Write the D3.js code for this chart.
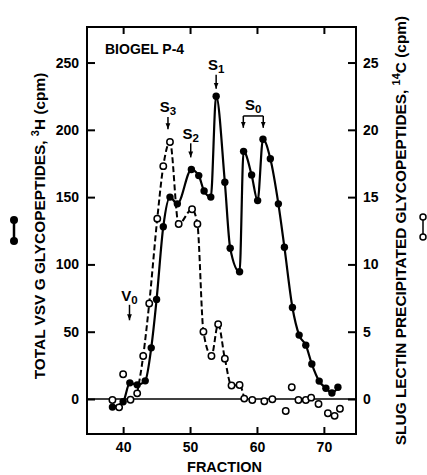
<!DOCTYPE html>
<html>
<head>
<meta charset="utf-8">
<script src="https://cdn.jsdelivr.net/npm/d3@7"></script>
<style>
  body { margin: 0; background: #fff; }
  svg { font-family: "Liberation Sans", Arial, sans-serif; font-weight: bold; }
</style>
</head>
<body>
<svg width="427" height="475"></svg>
<script>
// total VSV G glycopeptides, 3H cpm (left axis), filled circles
const vsvFraction = [38.4, 40.0, 41.0, 42.1, 43.3, 44.2, 45.0, 46.0, 47.0, 48.1, 50.2, 51.3, 52.1, 53.1, 53.9, 55.2, 56.0, 57.4, 58.0, 59.2, 60.1, 60.9, 62.0, 63.2, 64.1, 65.3, 66.3, 67.3, 68.2, 69.3, 70.3, 71.2, 72.1];
const vsvCpm = [-6, -2, 12, 10.5, 13.5, 38, 74, 128, 150, 145, 170.5, 166, 154.5, 150, 225, 161, 112, 94.5, 184, 166.5, 147.4, 193, 178.5, 145, 112.8, 68, 47.5, 40, 26, 13.3, 8, 4.5, 8.7];

// slug lectin precipitated glycopeptides, 14C cpm (right axis), open circles
const slugFraction = [38.4, 39.4, 40.0, 41.1, 42.1, 43.0, 43.9, 45.1, 46.0, 47.0, 48.3, 50.3, 51.1, 52.0, 53.2, 54.2, 55.2, 56.2, 57.4, 58.1, 59.3, 61.1, 62.3, 64.3, 65.2, 66.2, 67.3, 68.1, 69.2, 70.6, 71.6, 72.4];
const slugCpm = [-0.07, -0.62, 1.84, -0.05, 0.42, 3.2, 7.1, 13.4, 17.3, 19.1, 13.0, 14.1, 13.0, 5.0, 3.2, 5.55, 3.0, 1.0, 1.04, 0.03, -0.07, -0.17, -0.02, -0.89, 0.87, -0.07, -0.07, 0.1, -0.37, -1.06, -1.25, -0.72];
// dashed trace runs over the peak region only
const slugTraceFrom = 42.1, slugTraceTo = 58.1;

const xTicks = [40, 50, 60, 70];
const leftTicks = [0, 50, 100, 150, 200, 250];
const rightTicks = [0, 5, 10, 15, 20, 25];

// peak markers: label, fraction, label baseline, arrow top, arrow tip (left-axis units)
const peaks = [
  { name: "S", sub: "3", x: 46.7, ty: 213, y1: 209.5, y2: 200.5 },
  { name: "S", sub: "2", x: 50.1, ty: 193.5, y1: 190, y2: 179.5 },
  { name: "S", sub: "1", x: 53.9, ty: 244.5, y1: 241, y2: 230.5 },
  { name: "V", sub: "0", x: 40.95, ty: 72.5, y1: 70, y2: 58.5 }
];
const s0Label = { x: 59.45, ty: 215, y: 210.3, x1: 57.96, x2: 60.94, tip: 201.5 };

const svg = d3.select("svg");
const plotL = 87, plotR = 356, plotT = 27, plotB = 434;

const x = d3.scaleLinear().domain([34.6, 74.8]).range([plotL, plotR]);
const yL = d3.scaleLinear().domain([-26, 276.4]).range([plotB, plotT]);
const yR = d3.scaleLinear().domain([-2.6, 27.64]).range([plotB, plotT]);

svg.append("defs").append("marker")
  .attr("id", "head")
  .attr("viewBox", "0 0 10 10")
  .attr("refX", 10).attr("refY", 5)
  .attr("markerWidth", 6).attr("markerHeight", 6)
  .attr("markerUnits", "userSpaceOnUse")
  .attr("orient", "auto")
  .append("path").attr("d", "M0,1 L10,5 L0,9 Z").attr("fill", "#000");

// axes, ticks pointing inward
svg.append("g").attr("transform", `translate(0,${plotB})`)
  .call(d3.axisBottom(x).tickValues(xTicks).tickSizeInner(-7).tickSizeOuter(0).tickPadding(8));
svg.append("g").attr("transform", `translate(0,${plotT})`)
  .call(d3.axisTop(x).tickValues(xTicks).tickSizeInner(-7).tickSizeOuter(0).tickFormat(""));
svg.append("g").attr("transform", `translate(${plotL},0)`)
  .call(d3.axisLeft(yL).tickValues(leftTicks).tickSizeInner(-8).tickSizeOuter(0).tickPadding(8));
svg.append("g").attr("transform", `translate(${plotR},0)`)
  .call(d3.axisRight(yR).tickValues(rightTicks).tickSizeInner(-8).tickSizeOuter(0).tickPadding(7));

svg.selectAll(".domain").remove();
svg.selectAll(".tick line").attr("stroke", "#000").attr("stroke-width", 2);
svg.selectAll(".tick text").attr("fill", "#000")
  .style("font-size", "14px").style("font-weight", "bold");

svg.append("rect")
  .attr("x", plotL).attr("y", plotT)
  .attr("width", plotR - plotL).attr("height", plotB - plotT)
  .attr("fill", "none").attr("stroke", "#000").attr("stroke-width", 2);

// zero line
svg.append("line")
  .attr("x1", plotL).attr("x2", plotR)
  .attr("y1", yL(0)).attr("y2", yL(0))
  .attr("stroke", "#000").attr("stroke-width", 1.5);

const vsv = vsvFraction.map((f, i) => [f, vsvCpm[i]]);
const slug = slugFraction.map((f, i) => [f, slugCpm[i]]);

svg.append("path")
  .datum(slug.filter(d => d[0] >= slugTraceFrom && d[0] <= slugTraceTo))
  .attr("fill", "none").attr("stroke", "#000").attr("stroke-width", 2)
  .attr("stroke-dasharray", "6,3")
  .attr("d", d3.line().x(d => x(d[0])).y(d => yR(d[1])).curve(d3.curveMonotoneX));

svg.append("path")
  .datum(vsv)
  .attr("fill", "none").attr("stroke", "#000").attr("stroke-width", 2.2)
  .attr("d", d3.line().x(d => x(d[0])).y(d => yL(d[1])).curve(d3.curveMonotoneX));

svg.selectAll(".open").data(slug).join("circle")
  .attr("class", "open")
  .attr("cx", d => x(d[0])).attr("cy", d => yR(d[1])).attr("r", 3.2)
  .attr("fill", "#fff").attr("stroke", "#000").attr("stroke-width", 1.5);

svg.selectAll(".dot").data(vsv).join("circle")
  .attr("class", "dot")
  .attr("cx", d => x(d[0])).attr("cy", d => yL(d[1])).attr("r", 3.7)
  .attr("fill", "#000");

// labels
svg.append("text").attr("x", 105).attr("y", 54)
  .style("font-size", "14px").text("BIOGEL P-4");

svg.append("text").attr("x", 224.5).attr("y", 472)
  .attr("text-anchor", "middle").style("font-size", "14.5px").text("FRACTION");

const leftLabel = svg.append("text")
  .attr("transform", "translate(45,226) rotate(-90)")
  .attr("text-anchor", "middle").style("font-size", "15.4px");
leftLabel.append("tspan").text("TOTAL VSV G GLYCOPEPTIDES, ");
leftLabel.append("tspan").attr("dy", -6).style("font-size", "11px").text("3");
leftLabel.append("tspan").attr("dy", 6).text("H (cpm)");

const rightLabel = svg.append("text")
  .attr("transform", "translate(406,230.5) rotate(-90)")
  .attr("text-anchor", "middle").style("font-size", "15.4px");
rightLabel.append("tspan").text("SLUG LECTIN PRECIPITATED GLYCOPEPTIDES, ");
rightLabel.append("tspan").attr("dy", -6).style("font-size", "11px").text("14");
rightLabel.append("tspan").attr("dy", 6).text("C (cpm)");

// legend glyphs next to axis titles
svg.append("line").attr("x1", 14).attr("x2", 14).attr("y1", 220).attr("y2", 241)
  .attr("stroke", "#000").attr("stroke-width", 2.5);
svg.selectAll(".lg").data([220, 241]).join("circle").attr("class", "lg")
  .attr("cx", 14).attr("cy", d => d).attr("r", 4).attr("fill", "#000");
svg.append("line").attr("x1", 423).attr("x2", 423).attr("y1", 220).attr("y2", 234)
  .attr("stroke", "#000").attr("stroke-width", 1.5);
svg.selectAll(".lo").data([217, 237]).join("circle").attr("class", "lo")
  .attr("cx", 423).attr("cy", d => d).attr("r", 3).attr("fill", "#fff")
  .attr("stroke", "#000").attr("stroke-width", 1.5);

// peak annotations
const pk = svg.selectAll(".pk").data(peaks).join("g").attr("class", "pk");
const pkText = pk.append("text")
  .attr("x", d => x(d.x)).attr("y", d => yL(d.ty))
  .attr("text-anchor", "middle").style("font-size", "15px");
pkText.append("tspan").text(d => d.name);
pkText.append("tspan").attr("dy", 3).style("font-size", "11.5px").text(d => d.sub);
pk.append("line")
  .attr("x1", d => x(d.x)).attr("x2", d => x(d.x))
  .attr("y1", d => yL(d.y1)).attr("y2", d => yL(d.y2))
  .attr("stroke", "#000").attr("stroke-width", 1.5)
  .attr("marker-end", "url(#head)");

const s0 = svg.append("g");
const s0Text = s0.append("text").attr("x", x(s0Label.x)).attr("y", yL(s0Label.ty))
  .attr("text-anchor", "middle").style("font-size", "15px");
s0Text.append("tspan").text("S");
s0Text.append("tspan").attr("dy", 3).style("font-size", "11.5px").text("0");
s0.append("line")
  .attr("x1", x(s0Label.x1)).attr("x2", x(s0Label.x2))
  .attr("y1", yL(s0Label.y)).attr("y2", yL(s0Label.y))
  .attr("stroke", "#000").attr("stroke-width", 1.5);
s0.selectAll(".br").data([s0Label.x1, s0Label.x2]).join("line").attr("class", "br")
  .attr("x1", d => x(d)).attr("x2", d => x(d))
  .attr("y1", yL(s0Label.y)).attr("y2", yL(s0Label.tip))
  .attr("stroke", "#000").attr("stroke-width", 1.5)
  .attr("marker-end", "url(#head)");
</script>
</body>
</html>
